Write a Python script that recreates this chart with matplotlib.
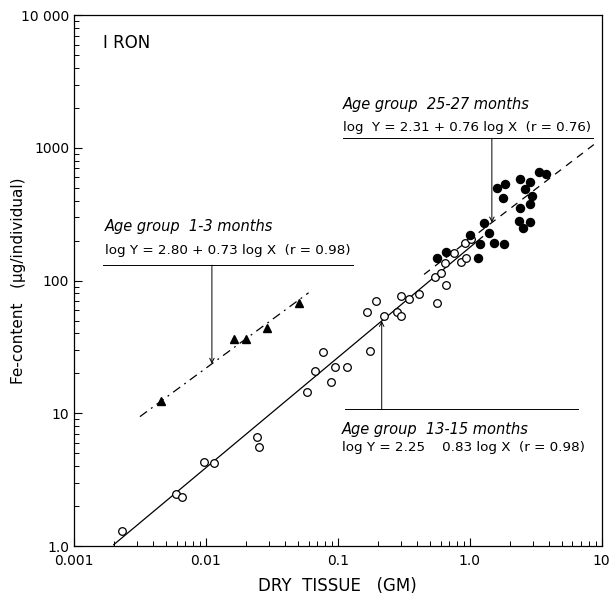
# Iron content vs dry tissue weight, three age groups (log-log)

import numpy as np
import matplotlib.pyplot as plt
from matplotlib.ticker import FixedLocator, LogLocator, NullFormatter

# age group 1-3 months (filled triangles)
x_young = [0.00456, 0.0163, 0.0200, 0.0288, 0.0507]
y_young = [12.4, 36.3, 36.3, 44.1, 67.3]

# age group 13-15 months (open circles)
x_mid = [0.0023, 0.00593, 0.0066, 0.00966, 0.0115, 0.0242, 0.0252,
         0.0586, 0.0673, 0.0766, 0.0895, 0.0959, 0.118, 0.165, 0.1745,
         0.193, 0.224, 0.279, 0.300, 0.303, 0.345, 0.411, 0.543, 0.56,
         0.603, 0.647, 0.658, 0.76, 0.865, 0.916, 0.944, 1.02]
y_mid = [1.30, 2.45, 2.33, 4.29, 4.2, 6.59, 5.6,
         14.5, 20.8, 28.8, 17.3, 22.2, 22.4, 57.5, 29.4,
         70.1, 54.0, 57.9, 54.0, 76.4, 73.0, 79.1, 107, 68.1,
         114, 135, 92.0, 162, 139, 191, 149, 204]

# age group 25-27 months (filled circles)
x_old = [0.56, 0.658, 1.0, 1.156, 1.197, 1.277, 1.40, 1.528, 1.82,
         1.622, 1.84, 1.79, 2.42, 2.85, 2.64, 2.96, 2.42, 2.88,
         2.35, 2.53, 2.88, 3.35, 3.81]
y_old = [148, 163, 220, 147, 187, 270, 229, 191, 187,
         495, 533, 421, 582, 549, 489, 435, 354, 375,
         281, 250, 277, 660, 631]

# regression lines: log Y = a + b log X, drawn over [x0, x1]
fit_young = (2.80, 0.73, 0.00316, 0.060)
fit_mid = (2.25, 0.83, 0.0020, 1.25)
fit_old = (2.31, 0.76, 0.45, 9.0)

x_ticks = [0.001, 0.01, 0.1, 1.0, 10]
x_labels = ['0.001', '0.01', '0.1', '1.0', '10']
y_ticks = [1, 10, 100, 1000, 10000]
y_labels = ['1.0', '10', '100', '1000', '10 000']


def fit_line(fit):
    a, b, x0, x1 = fit
    xs = np.array([x0, x1])
    return xs, 10 ** (a + b * np.log10(xs))


def fit_value(fit, x):
    a, b = fit[0], fit[1]
    return 10 ** (a + b * np.log10(x))


plt.rcParams['font.family'] = 'DejaVu Sans'
fig = plt.figure(figsize=(6.14, 6.05), dpi=100)
ax = fig.add_axes([0.1205, 0.0975, 0.8595, 0.8775])
ax.set_xscale('log')
ax.set_yscale('log')
ax.set_xlim(0.001, 10)
ax.set_ylim(1, 10000)

lw = 0.9
xs, ys = fit_line(fit_young)
ax.plot(xs, ys, color='black', lw=lw, linestyle=(0, (7, 4, 1.5, 4)))
xs, ys = fit_line(fit_mid)
ax.plot(xs, ys, color='black', lw=lw, linestyle='-')
xs, ys = fit_line(fit_old)
ax.plot(xs, ys, color='black', lw=lw, linestyle=(0, (6, 5)))

ax.plot(x_mid, y_mid, 'o', mfc='white', mec='black', mew=0.9, ms=5.5)
ax.plot(x_old, y_old, 'o', mfc='black', mec='black', ms=5.8)
ax.plot(x_young, y_young, '^', mfc='black', mec='black', ms=5.8)

ax.xaxis.set_major_locator(FixedLocator(x_ticks))
ax.set_xticklabels(x_labels)
ax.yaxis.set_major_locator(FixedLocator(y_ticks))
ax.set_yticklabels(y_labels)
ax.xaxis.set_minor_locator(LogLocator(base=10, subs=np.arange(2, 10)))
ax.yaxis.set_minor_locator(LogLocator(base=10, subs=np.arange(2, 10)))
ax.xaxis.set_minor_formatter(NullFormatter())
ax.yaxis.set_minor_formatter(NullFormatter())
ax.tick_params(which='major', direction='in', length=6, width=0.8,
               labelsize=10, top=False, right=False)
ax.tick_params(which='minor', direction='in', length=3.5, width=0.7,
               top=False, right=False)
ax.tick_params(axis='x', pad=6)
for s in ax.spines.values():
    s.set_linewidth(0.9)

ax.set_xlabel('DRY  TISSUE   (GM)', fontsize=12, labelpad=6)
fig.text(0.03, 0.536, 'Fe-content   (\u00b5g/individual)', fontsize=11,
         rotation=90, ha='center', va='center')

ax.text(0.055, 0.947, 'I RON', transform=ax.transAxes, fontsize=12,
        va='center', ha='left')

# annotation blocks: title, equation, rule under them, pointer to line
arrow = dict(arrowstyle='->', lw=0.7, color='black', shrinkA=0, shrinkB=0,
             mutation_scale=8)
trans = ax.get_xaxis_transform()

# 1-3 months
ax.text(0.059, 0.601, 'Age group  1-3 months', transform=ax.transAxes,
        fontsize=10.5, style='italic', va='center')
ax.text(0.059, 0.557, 'log Y = 2.80 + 0.73 log X  (r = 0.98)',
        transform=ax.transAxes, fontsize=9.7, va='center')
ax.plot([0.055, 0.528], [0.529, 0.529], transform=ax.transAxes,
        color='black', lw=0.7)
ax.annotate('', xy=(0.0111, fit_value(fit_young, 0.0111)),
            xytext=(0.0111, 0.529), textcoords=trans, arrowprops=arrow)

# 25-27 months
ax.text(0.509, 0.831, 'Age group  25-27 months', transform=ax.transAxes,
        fontsize=10.5, style='italic', va='center')
ax.text(0.509, 0.789, 'log  Y = 2.31 + 0.76 log X  (r = 0.76)',
        transform=ax.transAxes, fontsize=9.6, va='center')
ax.plot([0.509, 0.983], [0.768, 0.768], transform=ax.transAxes,
        color='black', lw=0.7)
ax.annotate('', xy=(1.47, fit_value(fit_old, 1.47)),
            xytext=(1.47, 0.768), textcoords=trans, arrowprops=arrow)

# 13-15 months
ax.text(0.508, 0.220, 'Age group  13-15 months', transform=ax.transAxes,
        fontsize=10.5, style='italic', va='center')
ax.text(0.508, 0.185, 'log Y = 2.25    0.83 log X  (r = 0.98)',
        transform=ax.transAxes, fontsize=9.7, va='center')
ax.plot([0.513, 0.955], [0.258, 0.258], transform=ax.transAxes,
        color='black', lw=0.7)
ax.annotate('', xy=(0.215, fit_value(fit_mid, 0.215)),
            xytext=(0.215, 0.258), textcoords=trans, arrowprops=arrow)

fig.savefig('out.png', dpi=100)
